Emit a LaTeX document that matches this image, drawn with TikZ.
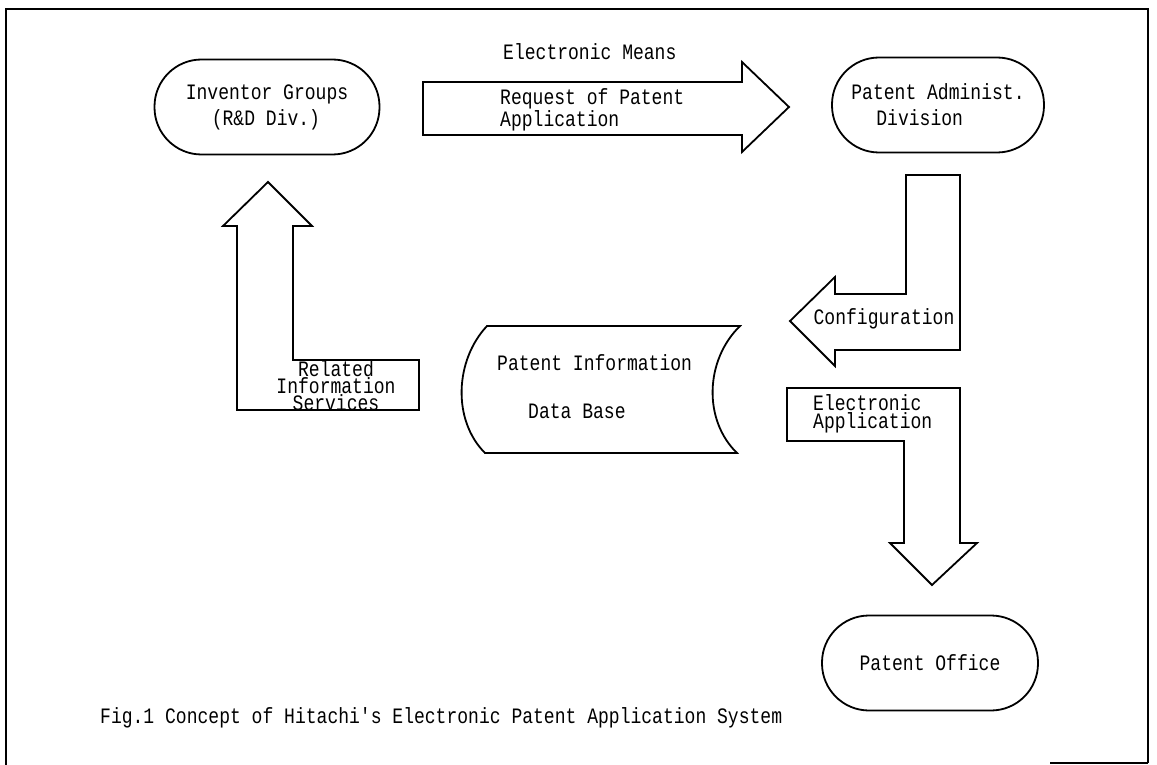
\documentclass[tikz,border=0pt]{standalone}
\usepackage{fontspec}
\usepackage{tikz}
\usetikzlibrary{calc}
\newfontfamily\dotfont[FakeStretch=0.82]{Liberation Mono}
\newcommand\dottxt{\dotfont\fontsize{22}{26}\selectfont}
\tikzstyle{pilule} = [rectangle, rounded corners=47pt, draw=black, line width=1.8pt, minimum height=95pt, font=\dottxt, align=left, inner sep=0pt]
\tikzstyle{fleche} = [draw=black, line width=1.8pt, line join=miter]
\tikzstyle{texte} = [font=\dottxt, inner sep=0pt]

\begin{document}
\begin{tikzpicture}[x=1pt, y=-1pt]
    \useasboundingbox (0,0) rectangle (1157,765);

    %% cadre
    \draw[line width=2.2pt] (6,765) -- (6,9) -- (1148,9) -- (1148,763);
    \draw[line width=1.5pt] (1050,763) -- (1148,763);

    %% inventeurs
    \node (invent) [pilule, minimum width=225pt] at (267,107) {Inventor Groups\\\hspace*{26pt}(R\&D Div.)};

    %% demande de brevet
    \draw[fleche] (423,82) -- (742,82) -- (742,62) -- (789,107) -- (742,152) -- (742,135) -- (423,135) -- cycle;
    \node (moyens) [texte, anchor=west] at (503,52) {Electronic Means};
    \node (demande) [texte, anchor=west, align=left] at (500,110) {Request of Patent\\[-4pt]Application};

    %% administration
    \node (admin) [pilule, minimum width=212pt] at (938,105) {Patent Administ.\\\hspace*{25pt}Division};

    %% configuration
    \draw[fleche] (906,175) -- (960,175) -- (960,350) -- (835,350) -- (835,366) -- (790,321) -- (835,277) -- (835,294) -- (906,294) -- cycle;
    \node (config) [texte] at (884,319) {Configuration};

    %% base de donnees
    \draw[fleche] (487,326) -- (740,326) .. controls (705,360) and (703,420) .. (737,453) -- (485,453) .. controls (452,420) and (455,360) .. (487,326) -- cycle;
    \node (base) [texte, anchor=west, align=left] at (497,387) {Patent Information\\[22pt]\hspace*{31pt}Data Base};

    %% services d'information
    \draw[fleche] (237,410) -- (237,226) -- (223,226) -- (268,182) -- (312,226) -- (293,226) -- (293,360) -- (419,360) -- (419,410) -- cycle;
    \node (services) [texte, align=center] at (336,386) {Related\\[-9pt]Information\\[-9pt]Services};

    %% depot electronique
    \draw[fleche] (787,388) -- (960,388) -- (960,543) -- (977,543) -- (932,585) -- (890,543) -- (904,543) -- (904,441) -- (787,441) -- cycle;
    \node (depot) [texte, anchor=west, align=left] at (813,414) {Electronic\\[-8pt]Application};

    %% office des brevets
    \node (office) [pilule, minimum width=216pt] at (930,663) {Patent Office};

    %% legende
    \node (legende) [texte, anchor=west] at (100,718) {Fig.1 Concept of Hitachi's Electronic Patent Application System};
\end{tikzpicture}
\end{document}
